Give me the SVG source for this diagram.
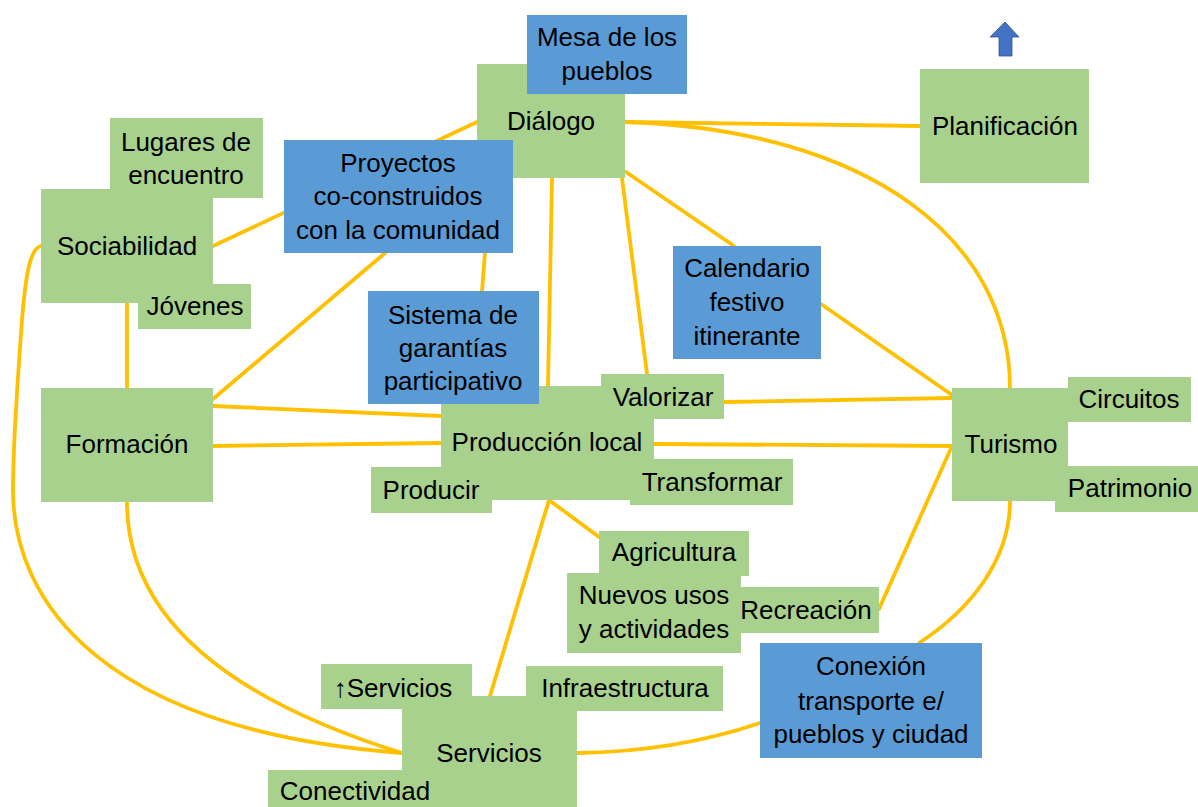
<svg xmlns="http://www.w3.org/2000/svg" width="1198" height="807" viewBox="0 0 1198 807">
<style>
.g{fill:#A9D18E}
.b{fill:#5B9BD5}
.c{fill:none;stroke:#FFC000;stroke-width:3.8;stroke-linecap:round}
text{font-family:"Liberation Sans",Arial,sans-serif;font-size:26px;fill:#000;text-anchor:middle}
</style>
<rect width="1198" height="807" fill="#fff"/>
<g id="connectors">
<path class="c" d="M213,246 L477,122"/>
<path class="c" d="M625,122 L920,126"/>
<path class="c" d="M625,122 C870,130 1010,240 1010,388"/>
<path class="c" d="M626,172 L734,246"/>
<path class="c" d="M622,178 L647,374"/>
<path class="c" d="M552,179 L548,386"/>
<path class="c" d="M485,253 L482,291"/>
<path class="c" d="M385,253 L213,399"/>
<path class="c" d="M127,303 L127,388"/>
<path class="c" d="M213,406 L441,416"/>
<path class="c" d="M213,446 L441,443"/>
<path class="c" d="M724,402 L952,398"/>
<path class="c" d="M654,444 L952,446"/>
<path class="c" d="M821,304 L952,395"/>
<path class="c" d="M879,609 L952,446"/>
<path class="c" d="M1010,501 C1010,560 970,610 919,643"/>
<path class="c" d="M549,500 L599,537"/>
<path class="c" d="M549,500 L490,696"/>
<path class="c" d="M577,753 C650,752 710,740 760,723"/>
<path class="c" d="M127,502 C127,600 200,690 402,753"/>
<path class="c" d="M41,246 C31,248 26,270 22,320 C17,390 13,440 13,490 C13,600 100,730 402,753"/>
</g>
<g id="dialogo"><rect class="g" x="477" y="64" width="148" height="114"/><text x="551" y="130">Diálogo</text></g>
<g id="mesa"><rect class="b" x="527" y="15" width="160" height="79"/><text x="607" y="46">Mesa de los</text><text x="607" y="80">pueblos</text></g>
<g id="planificacion"><rect class="g" x="920" y="69" width="169" height="114"/><text x="1005" y="135">Planificación</text></g>
<g id="flecha"><polygon points="1005,22 1019,37 1012,37 1012,56 999,56 999,37 990,37" fill="#4472C4" stroke="#2F5597" stroke-width="0.8"/></g>
<g id="lugares"><rect class="g" x="110" y="118" width="153" height="80"/><text x="186" y="151">Lugares de</text><text x="186" y="184">encuentro</text></g>
<g id="sociabilidad"><rect class="g" x="41" y="189" width="172" height="114"/><text x="127" y="255">Sociabilidad</text></g>
<g id="jovenes"><rect class="g" x="138" y="284" width="113" height="45"/><text x="195" y="315">Jóvenes</text></g>
<g id="proyectos"><rect class="b" x="284" y="140" width="229" height="113"/><text x="398" y="172">Proyectos</text><text x="398" y="205">co-construidos</text><text x="398" y="239">con la comunidad</text></g>
<g id="calendario"><rect class="b" x="673" y="246" width="148" height="113"/><text x="747" y="277">Calendario</text><text x="747" y="311">festivo</text><text x="747" y="345">itinerante</text></g>
<g id="formacion"><rect class="g" x="41" y="388" width="172" height="114"/><text x="127" y="453">Formación</text></g>
<g id="produccion"><rect class="g" x="441" y="386" width="213" height="114"/><text x="547" y="451">Producción local</text></g>
<g id="sistema"><rect class="b" x="368" y="291" width="171" height="113"/><text x="453" y="324">Sistema de</text><text x="453" y="357">garantías</text><text x="453" y="390">participativo</text></g>
<g id="valorizar"><rect class="g" x="601" y="374" width="123" height="45"/><text x="663" y="406">Valorizar</text></g>
<g id="transformar"><rect class="g" x="630" y="459" width="163" height="46"/><text x="712" y="491">Transformar</text></g>
<g id="producir"><rect class="g" x="371" y="467" width="121" height="46"/><text x="431" y="499">Producir</text></g>
<g id="agricultura"><rect class="g" x="599" y="531" width="150" height="45"/><text x="674" y="561">Agricultura</text></g>
<g id="recreacion"><rect class="g" x="735" y="587" width="144" height="46"/><text x="806" y="619">Recreación</text></g>
<g id="nuevos"><rect class="g" x="567" y="573" width="174" height="80"/><text x="654" y="604">Nuevos usos</text><text x="654" y="638">y actividades</text></g>
<g id="turismo"><rect class="g" x="952" y="388" width="116" height="113"/><text x="1011" y="453">Turismo</text></g>
<g id="circuitos"><rect class="g" x="1068" y="377" width="123" height="45"/><text x="1129" y="408">Circuitos</text></g>
<g id="patrimonio"><rect class="g" x="1055" y="466" width="143" height="46"/><text x="1130" y="497">Patrimonio</text></g>
<g id="servicios"><rect class="g" x="402" y="696" width="175" height="115"/><text x="489" y="762">Servicios</text></g>
<g id="mas-servicios"><rect class="g" x="321" y="664" width="151" height="45"/><text x="393" y="697">↑Servicios</text></g>
<g id="infraestructura"><rect class="g" x="526" y="666" width="197" height="45"/><text x="625" y="697">Infraestructura</text></g>
<g id="conectividad"><rect class="g" x="268" y="770" width="175" height="45"/><text x="355" y="800">Conectividad</text></g>
<g id="conexion"><rect class="b" x="760" y="643" width="222" height="115"/><text x="871" y="675">Conexión</text><text x="871" y="710">transporte e/</text><text x="871" y="743">pueblos y ciudad</text></g>
</svg>
